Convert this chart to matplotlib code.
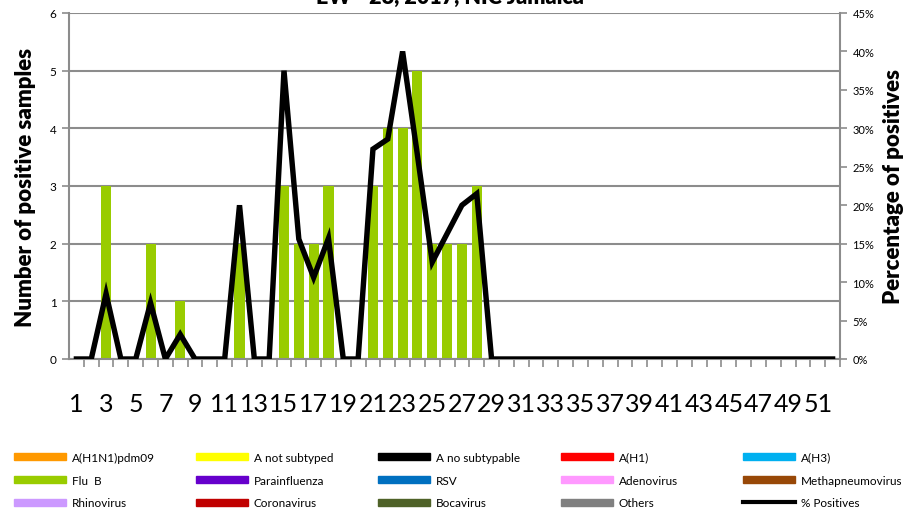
import matplotlib.pyplot as plt
from matplotlib.lines import Line2D
from matplotlib.patches import Patch
import numpy as np

plt.rcParams['font.family'] = ['Lato', 'DejaVu Sans']

weeks = list(range(1, 53))

# positive samples per week (only Flu B had positives)
flu_b = [0, 0, 3, 0, 0, 2, 0, 1, 0, 0, 0, 2, 0, 0, 3, 2, 2, 3, 0, 0,
         3, 4, 4, 5, 2, 2, 2, 3] + [0] * 24
no_cases = [0] * 52

# percentage of positives per week
pct_pos = [0, 0, 8.5, 0, 0, 7.3, 0, 3.2, 0, 0, 0, 20.0, 0, 0, 37.5, 15.6,
           10.6, 15.7, 0, 0, 27.3, 28.6, 40.0, 26.5, 12.6, 16.3, 20.0, 21.5] + [0] * 24

series_names = ['A(H1N1)pdm09', 'A not subtyped', 'A no subtypable', 'A(H1)', 'A(H3)',
                'Flu  B', 'Parainfluenza', 'RSV', 'Adenovirus', 'Methapneumovirus',
                'Rhinovirus', 'Coronavirus', 'Bocavirus', 'Others']
series_colors = ['#FF9900', '#FFFF00', '#000000', '#FF0000', '#00B0F0',
                 '#99CC00', '#6600CC', '#0070C0', '#FF99FF', '#984807',
                 '#CC99FF', '#C00000', '#4F6228', '#808080']
series_data = {name: (flu_b if name == 'Flu  B' else no_cases) for name in series_names}

grid_col = '#8C8C8C'

fig = plt.figure(figsize=(9.19, 5.10), dpi=100)
ax = fig.add_axes([69 / 919, 1 - 360 / 510, (840 - 69) / 919, 346 / 510])
ax2 = ax.twinx()

# stacked bars
bottom = np.zeros(52)
for name, col in zip(series_names, series_colors):
    vals = np.array(series_data[name], dtype=float)
    ax.bar(weeks, vals, width=0.68, bottom=bottom, color=col, zorder=2)
    bottom += vals

ax.set_ylim(0, 6)
ax.set_xlim(0.5, 52.5)
ax.set_yticks(range(0, 7))
ax.yaxis.grid(True, color=grid_col, lw=1.5, zorder=0)
ax.set_axisbelow(True)
ax.tick_params(axis='y', length=5, width=1.2, color=grid_col, labelsize=8.5, pad=4)

ax.set_xticks(weeks[::2])
ax.set_xticklabels([str(w) for w in weeks[::2]], fontsize=18)
ax.set_xticks(np.arange(1.5, 53, 1), minor=True)
ax.tick_params(axis='x', which='major', length=0, pad=24)
ax.tick_params(axis='x', which='minor', length=6, width=1.2, color=grid_col)

for side in ['top', 'right']:
    ax.spines[side].set_visible(False)
for side in ['left', 'bottom']:
    ax.spines[side].set_color(grid_col)
    ax.spines[side].set_linewidth(1.5)

ax.set_ylabel('Number of positive samples', fontsize=16, fontweight='heavy', labelpad=10)

# percent positives line on the right axis
ax2.plot(weeks, pct_pos, color='black', lw=3.9, zorder=5, solid_joinstyle='miter')
ax2.set_ylim(0, 45)
ax2.set_yticks(range(0, 46, 5))
ax2.set_yticklabels([f'{v}%' for v in range(0, 46, 5)])
ax2.tick_params(axis='y', length=5, width=1.2, color=grid_col, labelsize=8, pad=4)
for side in ['top', 'left', 'bottom']:
    ax2.spines[side].set_visible(False)
ax2.spines['right'].set_color(grid_col)
ax2.spines['right'].set_linewidth(1.5)
ax2.set_ylabel('Percentage of positives', fontsize=16, fontweight='heavy', labelpad=6)
ax.set_zorder(ax2.get_zorder() - 1)
ax2.patch.set_visible(False)
ax.patch.set_visible(True)

fig.text(450 / 919, 1 + 3 / 510, 'EW - 28, 2017, NIC Jamaica', ha='center', va='center',
         fontsize=15.5, fontweight='heavy')

# legend, five columns of three rows
handles = [Patch(color=c) for c in series_colors] + [Line2D([0], [0], color='black', lw=3)]
labels = series_names + ['% Positives']
col_x = [9, 191, 373, 556, 738]
for c in range(5):
    hs = [handles[r * 5 + c] for r in range(3)]
    ls = [labels[r * 5 + c] for r in range(3)]
    fig.legend(hs, ls, loc='upper left', bbox_to_anchor=(col_x[c] / 919, 1 - 448 / 510),
               frameon=False, fontsize=8.5, handlelength=4.4, handleheight=0.55,
               handletextpad=0.5, labelspacing=1.0, borderaxespad=0)

fig.savefig('out.png', dpi=100)
